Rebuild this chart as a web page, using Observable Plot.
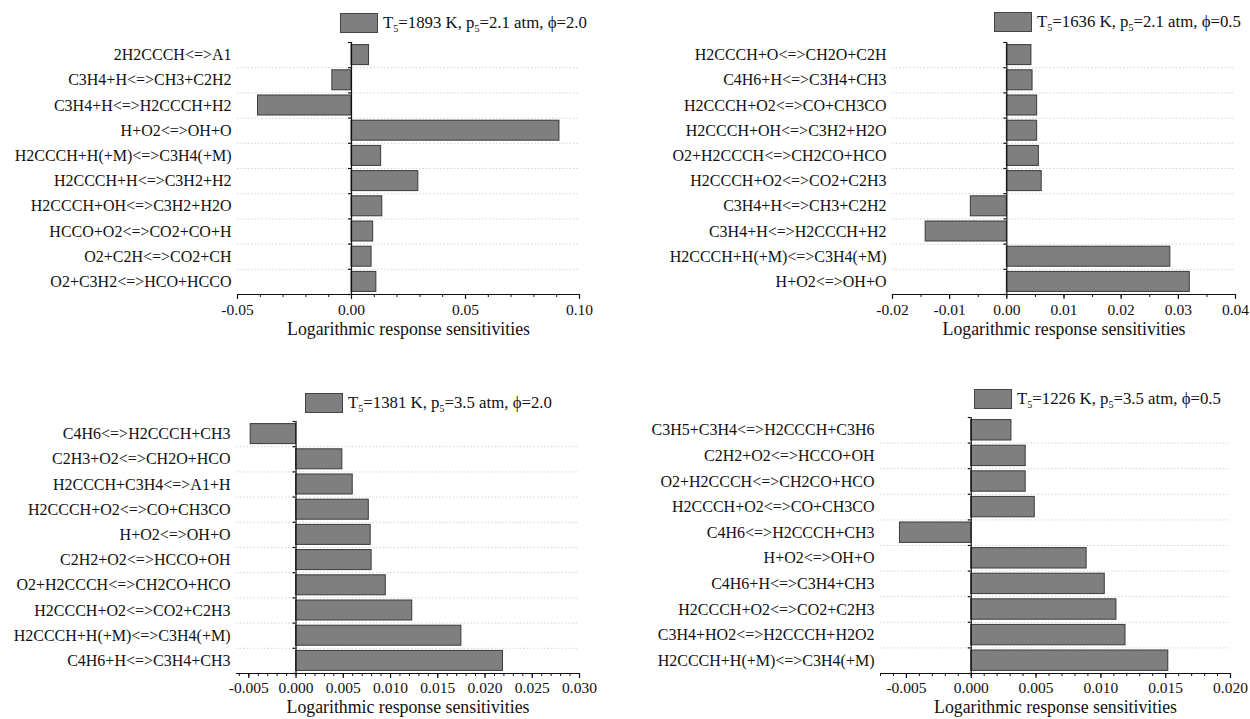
<!DOCTYPE html>
<html>
<head>
<meta charset="utf-8">
<script src="https://cdn.jsdelivr.net/npm/d3@7"></script>
<script src="https://cdn.jsdelivr.net/npm/@observablehq/plot@0.6"></script>
<style>
  html, body { margin: 0; padding: 0; background: #fff; }
  #page { position: relative; width: 1250px; height: 719px; overflow: hidden; font-family: "Liberation Serif", serif; color: #111; }
  .panel { position: absolute; }
  .legend { position: absolute; display: flex; align-items: center; white-space: nowrap; font-size: 16.8px; line-height: 1; }
  .legend .swatch { width: 36px; height: 18px; background: #7f7f7f; border: 1px solid #444; margin-right: 5px; }
  .legend sub { font-size: 0.6em; vertical-align: -0.35em; line-height: 0; }
</style>
</head>
<body>
<div id="page"></div>
<script>
// ---------- data ----------
const xTitle = "Logarithmic response sensitivities";

const p1Legend = "T<sub>5</sub>=1893 K, p<sub>5</sub>=2.1 atm, ϕ=2.0";
const p1Reactions = ["2H2CCCH<=>A1", "C3H4+H<=>CH3+C2H2", "C3H4+H<=>H2CCCH+H2", "H+O2<=>OH+O",
  "H2CCCH+H(+M)<=>C3H4(+M)", "H2CCCH+H<=>C3H2+H2", "H2CCCH+OH<=>C3H2+H2O",
  "HCCO+O2<=>CO2+CO+H", "O2+C2H<=>CO2+CH", "O2+C3H2<=>HCO+HCCO"];
const p1Values = [0.0077, -0.0084, -0.041, 0.0912, 0.0130, 0.0293, 0.0135, 0.0095, 0.0088, 0.0109];
const p1Ticks = [-0.05, 0.00, 0.05, 0.10];

const p2Legend = "T<sub>5</sub>=1636 K, p<sub>5</sub>=2.1 atm, ϕ=0.5";
const p2Reactions = ["H2CCCH+O<=>CH2O+C2H", "C4H6+H<=>C3H4+CH3", "H2CCCH+O2<=>CO+CH3CO",
  "H2CCCH+OH<=>C3H2+H2O", "O2+H2CCCH<=>CH2CO+HCO", "H2CCCH+O2<=>CO2+C2H3",
  "C3H4+H<=>CH3+C2H2", "C3H4+H<=>H2CCCH+H2", "H2CCCH+H(+M)<=>C3H4(+M)", "H+O2<=>OH+O"];
const p2Values = [0.0043, 0.0045, 0.0053, 0.0053, 0.0056, 0.0061, -0.0063, -0.0142, 0.0286, 0.0320];
const p2Ticks = [-0.02, -0.01, 0.00, 0.01, 0.02, 0.03, 0.04];

const p3Legend = "T<sub>5</sub>=1381 K, p<sub>5</sub>=3.5 atm, ϕ=2.0";
const p3Reactions = ["C4H6<=>H2CCCH+CH3", "C2H3+O2<=>CH2O+HCO", "H2CCCH+C3H4<=>A1+H",
  "H2CCCH+O2<=>CO+CH3CO", "H+O2<=>OH+O", "C2H2+O2<=>HCCO+OH", "O2+H2CCCH<=>CH2CO+HCO",
  "H2CCCH+O2<=>CO2+C2H3", "H2CCCH+H(+M)<=>C3H4(+M)", "C4H6+H<=>C3H4+CH3"];
const p3Values = [-0.0048, 0.0049, 0.0060, 0.0077, 0.0079, 0.0080, 0.0095, 0.0123, 0.0175, 0.0219];
const p3Ticks = [-0.005, 0.000, 0.005, 0.010, 0.015, 0.020, 0.025, 0.030];

const p4Legend = "T<sub>5</sub>=1226 K, p<sub>5</sub>=3.5 atm, ϕ=0.5";
const p4Reactions = ["C3H5+C3H4<=>H2CCCH+C3H6", "C2H2+O2<=>HCCO+OH", "O2+H2CCCH<=>CH2CO+HCO",
  "H2CCCH+O2<=>CO+CH3CO", "C4H6<=>H2CCCH+CH3", "H+O2<=>OH+O", "C4H6+H<=>C3H4+CH3",
  "H2CCCH+O2<=>CO2+C2H3", "C3H4+HO2<=>H2CCCH+H2O2", "H2CCCH+H(+M)<=>C3H4(+M)"];
const p4Values = [0.0031, 0.0042, 0.0042, 0.0049, -0.0055, 0.0089, 0.0103, 0.0112, 0.0119, 0.0152];
const p4Ticks = [-0.005, 0.000, 0.005, 0.010, 0.015, 0.020];

// ---------- layout ----------
const panels = [
  {legend: p1Legend, reactions: p1Reactions, values: p1Values, ticks: p1Ticks,
   domain: [-0.05, 0.10], minorStep: 0.01, digits: 2,
   left: 0, top: 0, height: 359, m: [42, 46, 65, 237], legendPos: [340, 13], pad: 4, titleDy: 40},
  {legend: p2Legend, reactions: p2Reactions, values: p2Values, ticks: p2Ticks,
   domain: [-0.02, 0.04], minorStep: 0.005, digits: 2,
   left: 625, top: 0, height: 359, m: [42, 15, 65, 267], legendPos: [994, 12], pad: 4, titleDy: 40},
  {legend: p3Legend, reactions: p3Reactions, values: p3Values, ticks: p3Ticks,
   domain: [-0.0063, 0.030], minorStep: 0.001, digits: 3,
   left: 0, top: 359, height: 360, m: [62, 46, 46, 236], legendPos: [305, 393], pad: 3.5, titleDy: 39},
  {legend: p4Legend, reactions: p4Reactions, values: p4Values, ticks: p4Ticks,
   domain: [-0.007, 0.020], minorStep: 0.001, digits: 3,
   left: 625, top: 359, height: 360, m: [58, 20, 46, 255], legendPos: [974, 389], pad: 3.5, titleDy: 39}
];

const page = document.getElementById("page");
const serif = "Liberation Serif";

for (const p of panels) {
  const n = p.reactions.length;
  const table = p.reactions.map((r, i) => ({reaction: r, value: p.values[i], i}));
  const lo = Math.ceil(p.domain[0] / p.minorStep - 1e-9);
  const hi = Math.floor(p.domain[1] / p.minorStep + 1e-9);
  const minor = d3.range(lo, hi + 1).map(k => k * p.minorStep);
  const bounds = d3.range(0, n + 1);

  const chart = Plot.plot({
    width: 625,
    height: p.height,
    marginTop: p.m[0], marginRight: p.m[1], marginBottom: p.m[2], marginLeft: p.m[3],
    style: `font-family: 'Liberation Serif', serif; font-size: 15px; color: #111; background: transparent; overflow: visible;`,
    x: {domain: p.domain},
    y: {domain: [n, 0], axis: null},
    marks: [
      Plot.ruleY(d3.range(1, n), {stroke: "#d4d4d4", strokeDasharray: "1.5,2", strokeWidth: 1}),
      Plot.rect(table, {x1: () => 0, x2: "value", y1: "i", y2: d => d.i + 1,
        insetTop: 2.6, insetBottom: 2.6, fill: "#7f7f7f", stroke: "#3a3a3a", strokeWidth: 1}),
      Plot.ruleX([0], {stroke: "#111", strokeWidth: 1.2}),
      Plot.ruleY(bounds, {x1: () => 0, x2: () => 0, insetLeft: -3, stroke: "#111", strokeWidth: 1.2}),
      Plot.ruleY([n], {stroke: "#111", strokeWidth: 1.2}),
      Plot.axisX(minor, {anchor: "bottom", tickSize: 3, tickFormat: () => "", label: null, strokeWidth: 1}),
      Plot.axisX(p.ticks, {anchor: "bottom", tickSize: 5, tickPadding: p.pad, label: null,
        tickFormat: d => d.toFixed(p.digits), strokeWidth: 1.2, fontSize: 15.5, fontFamily: serif}),
      Plot.text(table, {y: d => d.i + 0.5, text: "reaction", frameAnchor: "left",
        textAnchor: "end", dx: -6, fontSize: 16, fill: "#111", fontFamily: serif}),
      Plot.text([xTitle], {frameAnchor: "bottom", dy: p.titleDy, fontSize: 17.8, fill: "#111", fontFamily: serif})
    ]
  });

  d3.select(chart).selectAll("text").attr("font-family", serif);

  const div = document.createElement("div");
  div.className = "panel";
  div.style.left = p.left + "px";
  div.style.top = p.top + "px";
  div.appendChild(chart);
  page.appendChild(div);

  const leg = document.createElement("div");
  leg.className = "legend";
  leg.style.left = p.legendPos[0] + "px";
  leg.style.top = p.legendPos[1] + "px";
  leg.innerHTML = `<span class="swatch"></span><span>${p.legend}</span>`;
  page.appendChild(leg);
}
</script>
</body>
</html>
